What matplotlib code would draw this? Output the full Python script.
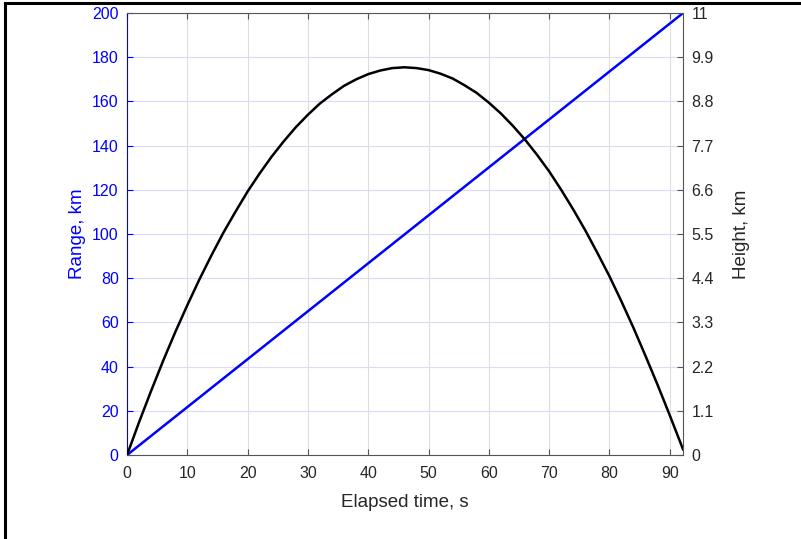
import matplotlib.pyplot as plt
from matplotlib.lines import Line2D

plt.rcParams['font.family'] = ['Liberation Sans', 'DejaVu Sans']

# Flight data: elapsed time (s), ground range (km), height (km)
time_s = [0, 2, 4, 6, 8, 10, 12, 14, 16, 18, 20, 22, 24, 26, 28, 30, 32, 34, 36, 38,
          40, 42, 44, 46, 48, 50, 52, 54, 56, 58, 60, 62, 64, 66, 68, 70, 72, 74, 76,
          78, 80, 82, 84, 86, 88, 90, 92, 92.2]
range_km = [0, 4.34, 8.68, 13.02, 17.35, 21.69, 26.03, 30.37, 34.71, 39.05, 43.38,
            47.72, 52.06, 56.40, 60.74, 65.08, 69.41, 73.75, 78.09, 82.43, 86.77,
            91.11, 95.44, 99.78, 104.12, 108.46, 112.80, 117.14, 121.48, 125.81,
            130.15, 134.49, 138.83, 143.17, 147.51, 151.84, 156.18, 160.52, 164.86,
            169.20, 173.54, 177.87, 182.21, 186.55, 190.89, 195.23, 199.57, 200.0]
height_km = [0, 0.82, 1.60, 2.35, 3.06, 3.73, 4.37, 4.97, 5.54, 6.06, 6.56, 7.01,
             7.43, 7.81, 8.16, 8.47, 8.75, 8.98, 9.19, 9.35, 9.48, 9.57, 9.63, 9.65,
             9.63, 9.58, 9.49, 9.37, 9.20, 9.01, 8.77, 8.50, 8.19, 7.85, 7.47, 7.06,
             6.60, 6.11, 5.59, 5.03, 4.45, 3.82, 3.16, 2.46, 1.74, 0.99, 0.22, 0.14]

range_ticks = list(range(0, 201, 20))
height_ticks = [0, 1.1, 2.2, 3.3, 4.4, 5.5, 6.6, 7.7, 8.8, 9.9, 11]
height_labels = ['0', '1.1', '2.2', '3.3', '4.4', '5.5', '6.6', '7.7', '8.8', '9.9', '11']
time_ticks = list(range(0, 91, 10))

dark = '#262626'
axis_gray = '#555555'

fig = plt.figure(figsize=(8.01, 5.39), dpi=100)
ax = fig.add_axes([0.1586, 0.1558, 0.6941, 0.8200])
ax2 = ax.twinx()

ax.plot(time_s, range_km, color='blue', lw=1.8)
ax2.plot(time_s, height_km, color='black', lw=1.8)

ax.set_xlim(0, 92.2)
ax.set_ylim(0, 200)
ax2.set_ylim(0, 11)

ax.set_xticks(time_ticks)
ax.set_yticks(range_ticks)
ax2.set_yticks(height_ticks)
ax2.set_yticklabels(height_labels)

# grid: vertical lines gray, horizontal lines tinted with the left axis colour
ax.xaxis.grid(True, color='#dedede', lw=0.8)
ax.yaxis.grid(True, color='#dadaff', lw=0.8)
ax.set_axisbelow(True)

ax.tick_params(axis='x', direction='in', top=True, length=4, width=0.8,
               colors=axis_gray, labelcolor=dark, labelsize=11.5, pad=8)
ax.tick_params(axis='y', direction='in', length=4, width=0.8,
               colors='blue', labelcolor='blue', labelsize=11.5, pad=6)
ax2.tick_params(axis='y', direction='in', length=4, width=0.8,
                colors=axis_gray, labelcolor=dark, labelsize=11.5, pad=6)

for s in ['top', 'bottom']:
    ax.spines[s].set_color(axis_gray)
ax.spines['left'].set_color('blue')
ax.spines['right'].set_visible(False)
ax2.spines['left'].set_visible(False)
ax2.spines['top'].set_visible(False)
ax2.spines['bottom'].set_visible(False)
ax2.spines['right'].set_color(axis_gray)
for a in (ax, ax2):
    for sp in a.spines.values():
        sp.set_linewidth(0.8)

ax.set_xlabel('Elapsed time, s', fontsize=13.5, color=dark, labelpad=9)
ax.set_ylabel('Range, km', fontsize=13.5, color='blue', labelpad=4)
ax2.set_ylabel('Height, km', fontsize=13.5, color=dark, labelpad=14)

# frame along the left and top edges of the figure
fig.add_artist(Line2D([5 / 801, 5 / 801], [0, 1 - 3 / 539], transform=fig.transFigure,
                      color='black', lw=2.2, solid_capstyle='projecting'))
fig.add_artist(Line2D([5 / 801, 1], [1 - 3 / 539, 1 - 3 / 539], transform=fig.transFigure,
                      color='black', lw=2.2, solid_capstyle='projecting'))

fig.savefig('out.png', dpi=100)
